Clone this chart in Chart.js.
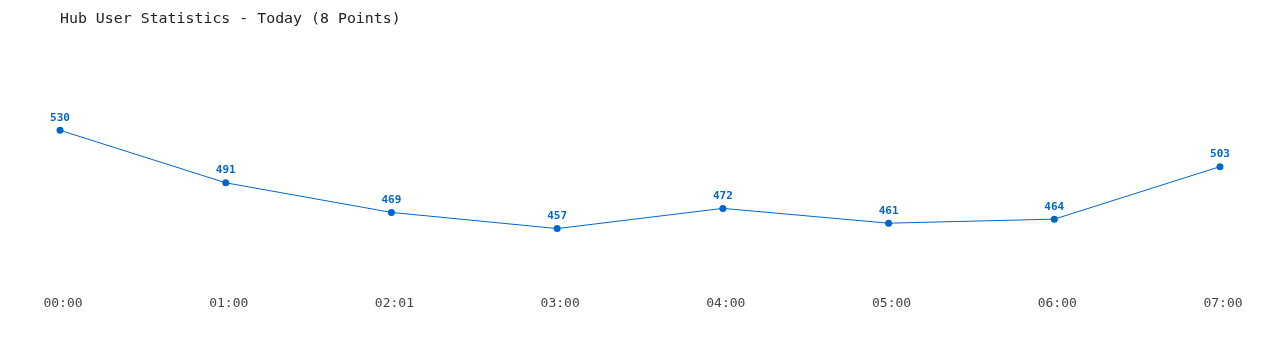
<!DOCTYPE html>
<html><head><meta charset="utf-8">
<script src="https://cdn.jsdelivr.net/npm/chart.js@4/dist/chart.umd.min.js"></script>
<style>html,body{margin:0;padding:0;background:#fff}#wrap{width:1280px;height:350px}</style>
</head><body><div id="wrap"><canvas id="c" width="1280" height="350"></canvas></div>
<script>
const categories = ["00:00","01:00","02:01","03:00","04:00","05:00","06:00","07:00"];
const users = [530,491,469,457,472,461,464,503];
const titleText = "Hub User Statistics - Today (8 Points)";
const yMin = 420, yMax = 560;

const labelPlugin = {
  id: 'valueLabels',
  afterDatasetsDraw(chart) {
    const ctx = chart.ctx;
    const meta = chart.getDatasetMeta(0);
    ctx.save();
    ctx.font = 'bold 11px "DejaVu Sans Mono", monospace';
    ctx.fillStyle = '#0066cc';
    ctx.textAlign = 'center';
    ctx.textBaseline = 'middle';
    meta.data.forEach((pt, i) => {
      ctx.fillText(String(users[i]), pt.x, pt.y - 12.5);
    });
    ctx.restore();
  }
};

new Chart(document.getElementById('c'), {
  type: 'line',
  data: {
    labels: categories,
    datasets: [{
      data: users,
      borderColor: '#0066cc',
      backgroundColor: '#0066cc',
      borderWidth: 1,
      pointRadius: 3.5,
      pointBackgroundColor: '#0066cc',
      pointBorderWidth: 0,
      tension: 0,
      fill: false
    }]
  },
  options: {
    responsive: false,
    animation: false,
    layout: { padding: { left: 60, right: 60, top: 0, bottom: 30 } },
    plugins: {
      legend: { display: false },
      tooltip: { enabled: false },
      title: {
        display: true,
        text: titleText,
        align: 'start',
        color: '#222',
        font: { family: '"DejaVu Sans Mono", monospace', size: 14.9, weight: 'normal' },
        padding: { top: 10, bottom: 62 }
      }
    },
    scales: {
      x: {
        grid: { display: false },
        border: { display: false },
        ticks: {
          color: '#444',
          font: { family: '"DejaVu Sans Mono", monospace', size: 13 },
          padding: 9,
          labelOffset: 3,
          maxRotation: 0,
          autoSkip: false
        }
      },
      y: { display: false, min: yMin, max: yMax }
    }
  },
  plugins: [labelPlugin]
});
</script>
</body></html>
